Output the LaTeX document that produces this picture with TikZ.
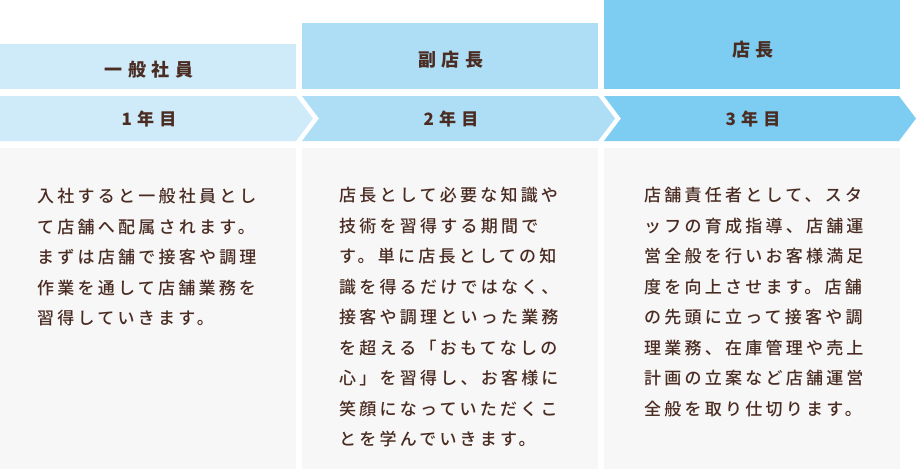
\documentclass[tikz,border=0pt]{standalone}
\usepackage{fontspec}
\newfontfamily\jpbody[LetterSpace=19]{Noto Sans CJK JP Medium}
\newfontfamily\jphead[LetterSpace=30]{Noto Sans CJK JP}
\definecolor{rankA}{HTML}{CFEBFA}
\definecolor{rankB}{HTML}{ADDEF5}
\definecolor{rankC}{HTML}{7DCDF2}
\definecolor{paper}{HTML}{F7F7F7}
\definecolor{ink}{HTML}{4A2C22}
\begin{document}
\begin{tikzpicture}[
  x=1pt, y=-1pt,
  headbox/.style={anchor=north west, minimum width=296pt, inner sep=0pt, outer sep=0pt},
  bodybox/.style={anchor=north west, fill=paper, minimum width=296pt, minimum height=321pt, inner sep=0pt, outer sep=0pt},
  headtext/.style={text=ink, font=\jphead\bfseries\fontsize{18}{20}\selectfont, inner sep=0pt},
  yeartext/.style={text=ink, font=\jphead\bfseries\fontsize{17}{20}\selectfont, inner sep=0pt},
  bodytext/.style={anchor=north west, text=ink, align=left, inner sep=0pt,
    font=\jpbody\fontsize{17}{30.5}\selectfont}
]
\useasboundingbox (0,0) rectangle (922,469);

% titles
\node[headbox, fill=rankA, minimum height=45pt] (head1) at (0,44) {};
\node[headbox, fill=rankB, minimum height=66pt] (head2) at (302,23) {};
\node[headbox, fill=rankC, minimum height=89pt] (head3) at (604,0) {};
\node[headtext] (title1) at ([xshift=1pt,yshift=-3pt]head1.center) {一般社員};
\node[headtext] (title2) at ([xshift=1pt,yshift=-4pt]head2.center) {副店長};
\node[headtext] (title3) at ([xshift=1pt,yshift=-5pt]head3.center) {店長};

% year arrows
\fill[rankA] (0,96) -- (296,96) -- (313,118.5) -- (296,141) -- (0,141) -- cycle;
\fill[rankB] (302,96) -- (598,96) -- (615,118.5) -- (598,141) -- (302,141) -- (319,118.5) -- cycle;
\fill[rankC] (604,96) -- (899,96) -- (916,118.5) -- (899,141) -- (604,141) -- (621,118.5) -- cycle;
\node[yeartext] (year1) at (149,119.5) {1年目};
\node[yeartext] (year2) at (451,119.5) {2年目};
\node[yeartext] (year3) at (753,119.5) {3年目};

% descriptions
\node[bodybox] (body1) at (0,148) {};
\node[bodybox] (body2) at (302,148) {};
\node[bodybox] (body3) at (604,148) {};
\node[bodytext] (text1) at (37,188) {入社すると一般社員とし\\て店舗へ配属されます。\\まずは店舗で接客や調理\\作業を通して店舗業務を\\習得していきます。};
\node[bodytext] (text2) at (339,187) {店長として必要な知識や\\技術を習得する期間で\\す。単に店長としての知\\識を得るだけではなく、\\接客や調理といった業務\\を超える「おもてなしの\\心」を習得し、お客様に\\笑顔になっていただくこ\\とを学んでいきます。};
\node[bodytext] (text3) at (644,187) {店舗責任者として、スタ\\ッフの育成指導、店舗運\\営全般を行いお客様満足\\度を向上させます。店舗\\の先頭に立って接客や調\\理業務、在庫管理や売上\\計画の立案など店舗運営\\全般を取り仕切ります。};
\end{tikzpicture}
\end{document}
